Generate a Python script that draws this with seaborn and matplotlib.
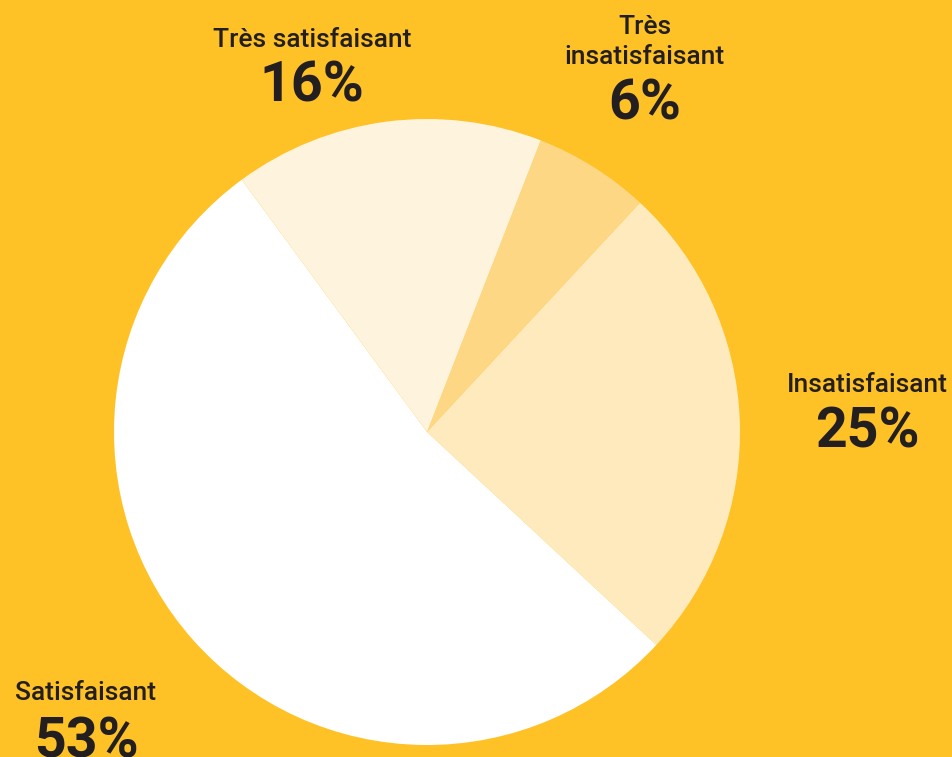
import matplotlib
matplotlib.use('Agg')
import matplotlib.pyplot as plt
import seaborn as sns

# data, clockwise from the top
categories = ['Très\ninsatisfaisant', 'Insatisfaisant', 'Satisfaisant', 'Très satisfaisant']
shares = [6, 25, 53, 16]
slice_colors = ['#FDD783', '#FEEABD', '#FFFFFF', '#FEF3DC']

bg = '#FFC226'
ink = '#231F20'

sns.set_style('white')
plt.rcParams['font.family'] = ['Roboto', 'DejaVu Sans']

W, H = 953, 757
fig = plt.figure(figsize=(W / 100, H / 100), dpi=100, facecolor=bg)

# pie centre (427, 432) px, radius 313 px
cx, cy, r = 427, 432, 313
ax = fig.add_axes([(cx - r) / W, (H - cy - r) / H, 2 * r / W, 2 * r / H])
ax.set_facecolor(bg)
ax.pie(shares, colors=slice_colors, startangle=68.7, counterclock=False,
       radius=1, wedgeprops={'linewidth': 0})
ax.set_xlim(-1, 1)
ax.set_ylim(-1, 1)
ax.axis('off')

# label anchors in pixels: x, label centre y, percentage centre y
label_pos = {
    'Très\ninsatisfaisant': (645, 42, 105),
    'Insatisfaisant': (867, 385, 432),
    'Satisfaisant': (86, 693, 742),
    'Très satisfaisant': (312, 40, 87),
}

for cat, val in zip(categories, shares):
    x, y_lab, y_pct = label_pos[cat]
    fig.text(x / W, 1 - y_lab / H, cat, ha='center', va='center',
             fontsize=19, fontweight='medium', color=ink, linespacing=1.3)
    fig.text(x / W, 1 - y_pct / H, f'{val}%', ha='center', va='center',
             fontsize=40, fontweight='bold', color=ink)

fig.savefig('out.png', dpi=100, facecolor=bg)
